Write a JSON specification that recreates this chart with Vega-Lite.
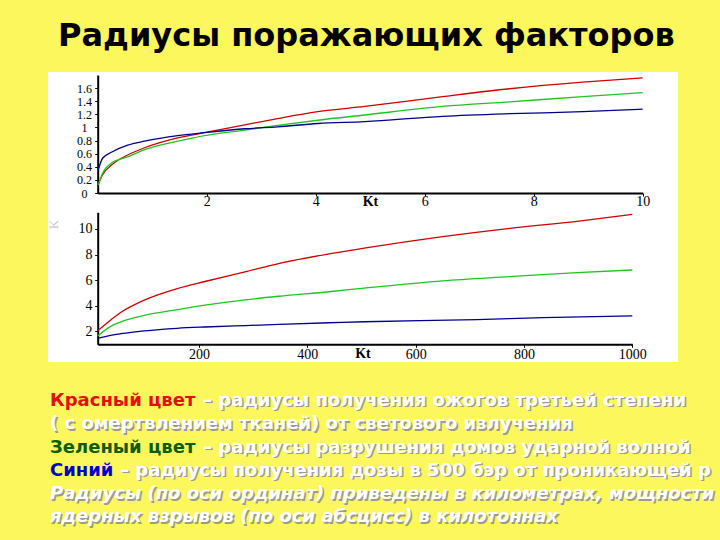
{
  "$schema": "https://vega.github.io/schema/vega-lite/v6.json",
  "background": "#fdf75e",
  "padding": {"left": 48, "top": 20, "right": 0, "bottom": 0},
  "bounds": "flush",
  "spacing": 0,
  "title": {
    "text": "Радиусы поражающих факторов",
    "font": "DejaVu Sans",
    "fontSize": 32,
    "fontWeight": "bold",
    "color": "#000000",
    "anchor": "start",
    "frame": "group",
    "baseline": "alphabetic",
    "offset": -6,
    "dx": 10
  },
  "datasets": {
    "small": [
      {"kt": 0.01, "r": 0.13, "factor": "thermal"},
      {"kt": 0.09, "r": 0.28, "factor": "thermal"},
      {"kt": 0.26, "r": 0.43, "factor": "thermal"},
      {"kt": 0.55, "r": 0.58, "factor": "thermal"},
      {"kt": 0.86, "r": 0.69, "factor": "thermal"},
      {"kt": 1.47, "r": 0.84, "factor": "thermal"},
      {"kt": 1.96, "r": 0.92, "factor": "thermal"},
      {"kt": 2.7, "r": 1.04, "factor": "thermal"},
      {"kt": 3.3, "r": 1.135, "factor": "thermal"},
      {"kt": 4.04, "r": 1.24, "factor": "thermal"},
      {"kt": 4.9, "r": 1.32, "factor": "thermal"},
      {"kt": 6.33, "r": 1.47, "factor": "thermal"},
      {"kt": 7.56, "r": 1.59, "factor": "thermal"},
      {"kt": 8.9, "r": 1.69, "factor": "thermal"},
      {"kt": 10, "r": 1.755, "factor": "thermal"},
      {"kt": 0.01, "r": 0.12, "factor": "blast"},
      {"kt": 0.09, "r": 0.3, "factor": "blast"},
      {"kt": 0.26, "r": 0.46, "factor": "blast"},
      {"kt": 0.55, "r": 0.55, "factor": "blast"},
      {"kt": 0.86, "r": 0.66, "factor": "blast"},
      {"kt": 1.47, "r": 0.79, "factor": "blast"},
      {"kt": 1.96, "r": 0.875, "factor": "blast"},
      {"kt": 2.7, "r": 0.96, "factor": "blast"},
      {"kt": 3.3, "r": 1.03, "factor": "blast"},
      {"kt": 4.04, "r": 1.11, "factor": "blast"},
      {"kt": 4.9, "r": 1.19, "factor": "blast"},
      {"kt": 6.33, "r": 1.32, "factor": "blast"},
      {"kt": 7.56, "r": 1.39, "factor": "blast"},
      {"kt": 8.9, "r": 1.47, "factor": "blast"},
      {"kt": 10, "r": 1.53, "factor": "blast"},
      {"kt": 0.01, "r": 0.355, "factor": "radiation"},
      {"kt": 0.09, "r": 0.53, "factor": "radiation"},
      {"kt": 0.26, "r": 0.625, "factor": "radiation"},
      {"kt": 0.55, "r": 0.73, "factor": "radiation"},
      {"kt": 0.86, "r": 0.79, "factor": "radiation"},
      {"kt": 1.47, "r": 0.875, "factor": "radiation"},
      {"kt": 1.96, "r": 0.92, "factor": "radiation"},
      {"kt": 2.7, "r": 0.98, "factor": "radiation"},
      {"kt": 3.3, "r": 1.01, "factor": "radiation"},
      {"kt": 4.04, "r": 1.06, "factor": "radiation"},
      {"kt": 4.9, "r": 1.09, "factor": "radiation"},
      {"kt": 6.33, "r": 1.17, "factor": "radiation"},
      {"kt": 7.56, "r": 1.21, "factor": "radiation"},
      {"kt": 8.9, "r": 1.24, "factor": "radiation"},
      {"kt": 10, "r": 1.28, "factor": "radiation"}
    ],
    "large": [
      {"kt": 13, "r": 2.05, "factor": "thermal"},
      {"kt": 37, "r": 2.9, "factor": "thermal"},
      {"kt": 56, "r": 3.5, "factor": "thermal"},
      {"kt": 99, "r": 4.45, "factor": "thermal"},
      {"kt": 160, "r": 5.35, "factor": "thermal"},
      {"kt": 211, "r": 5.9, "factor": "thermal"},
      {"kt": 285, "r": 6.65, "factor": "thermal"},
      {"kt": 347, "r": 7.3, "factor": "thermal"},
      {"kt": 440, "r": 8.05, "factor": "thermal"},
      {"kt": 505, "r": 8.5, "factor": "thermal"},
      {"kt": 650, "r": 9.4, "factor": "thermal"},
      {"kt": 774, "r": 10.05, "factor": "thermal"},
      {"kt": 898, "r": 10.6, "factor": "thermal"},
      {"kt": 1000, "r": 11.14, "factor": "thermal"},
      {"kt": 13, "r": 1.65, "factor": "blast"},
      {"kt": 37, "r": 2.4, "factor": "blast"},
      {"kt": 56, "r": 2.75, "factor": "blast"},
      {"kt": 99, "r": 3.25, "factor": "blast"},
      {"kt": 160, "r": 3.7, "factor": "blast"},
      {"kt": 211, "r": 4.05, "factor": "blast"},
      {"kt": 285, "r": 4.47, "factor": "blast"},
      {"kt": 347, "r": 4.75, "factor": "blast"},
      {"kt": 440, "r": 5.1, "factor": "blast"},
      {"kt": 505, "r": 5.38, "factor": "blast"},
      {"kt": 650, "r": 5.95, "factor": "blast"},
      {"kt": 774, "r": 6.28, "factor": "blast"},
      {"kt": 898, "r": 6.6, "factor": "blast"},
      {"kt": 1000, "r": 6.8, "factor": "blast"},
      {"kt": 13, "r": 1.47, "factor": "radiation"},
      {"kt": 37, "r": 1.7, "factor": "radiation"},
      {"kt": 56, "r": 1.83, "factor": "radiation"},
      {"kt": 99, "r": 2.05, "factor": "radiation"},
      {"kt": 160, "r": 2.25, "factor": "radiation"},
      {"kt": 211, "r": 2.35, "factor": "radiation"},
      {"kt": 285, "r": 2.46, "factor": "radiation"},
      {"kt": 347, "r": 2.55, "factor": "radiation"},
      {"kt": 440, "r": 2.68, "factor": "radiation"},
      {"kt": 505, "r": 2.76, "factor": "radiation"},
      {"kt": 713, "r": 2.93, "factor": "radiation"},
      {"kt": 835, "r": 3.08, "factor": "radiation"},
      {"kt": 1000, "r": 3.22, "factor": "radiation"}
    ],
    "notes": [
      {"line": 1, "seg": "lead", "kind": "red", "txt": "Красный цвет"},
      {"line": 1, "seg": "rest", "kind": "plain", "txt": "– радиусы получения ожогов третьей степени"},
      {"line": 2, "seg": "full", "kind": "plain", "txt": "( с омертвлением тканей) от светового излучения"},
      {"line": 3, "seg": "lead", "kind": "green", "txt": "Зеленый цвет"},
      {"line": 3, "seg": "rest", "kind": "plain", "txt": "– радиусы разрушения домов ударной волной"},
      {"line": 4, "seg": "lead", "kind": "blue", "txt": "Синий"},
      {"line": 4, "seg": "rest", "kind": "plain", "txt": "– радиусы получения дозы в 500 бэр от проникающей радиации"},
      {"line": 5, "seg": "note", "kind": "plain", "txt": "Радиусы (по оси ординат) приведены в километрах, мощности"},
      {"line": 6, "seg": "note", "kind": "plain", "txt": "ядерных взрывов (по оси абсцисс) в килотоннах"}
    ]
  },
  "vconcat": [
    {
      "width": 630,
      "height": 135,
      "view": {"fill": "white", "stroke": null},
      "data": {"name": "small"},
      "mark": {"type": "line", "strokeWidth": 1.3, "interpolate": "monotone"},
      "encoding": {
        "x": {
          "field": "kt",
          "type": "quantitative",
          "scale": {"domain": [0, 10], "range": [49.7, 594.7], "nice": false, "zero": false},
          "axis": {
            "title": "Kt",
            "titleX": 322,
            "titleY": 8.5,
            "titleAlign": "center",
            "titleBaseline": "middle",
            "titleFont": "Liberation Serif",
            "titleFontSize": 14,
            "titleFontWeight": "bold",
            "titleColor": "#000000",
            "values": [2, 4, 6, 8, 10],
            "format": "d",
            "offset": -14,
            "labelPadding": -2,
            "labelOverlap": false
          }
        },
        "y": {
          "field": "r",
          "type": "quantitative",
          "scale": {"domain": [0, 1.8], "range": [121, 3], "nice": false, "zero": false},
          "axis": {
            "title": null,
            "values": [0, 0.2, 0.4, 0.6, 0.8, 1, 1.2, 1.4, 1.6],
            "format": "~g",
            "offset": -49.7,
            "labelFontSize": 12,
            "labelAlign": "center",
            "labelPadding": 10.7,
            "labelOverlap": false
          }
        },
        "color": {
          "field": "factor",
          "type": "nominal",
          "scale": {"domain": ["thermal", "blast", "radiation"], "range": ["#cc0000", "#1fc41f", "#00008b"]},
          "legend": null
        }
      }
    },
    {
      "width": 630,
      "height": 155,
      "view": {"fill": "white", "stroke": null},
      "data": {"name": "large"},
      "mark": {"type": "line", "strokeWidth": 1.3, "interpolate": "monotone"},
      "encoding": {
        "x": {
          "field": "kt",
          "type": "quantitative",
          "scale": {"domain": [13, 1000], "range": [49.7, 584.3], "nice": false, "zero": false},
          "axis": {
            "title": "Kt",
            "titleX": 314.5,
            "titleY": 9.2,
            "titleAlign": "center",
            "titleBaseline": "middle",
            "titleFont": "Liberation Serif",
            "titleFontSize": 14,
            "titleFontWeight": "bold",
            "titleColor": "#000000",
            "values": [200, 400, 600, 800, 1000],
            "format": "d",
            "offset": -17.7,
            "labelPadding": 0,
            "labelOverlap": false
          }
        },
        "y": {
          "field": "r",
          "type": "quantitative",
          "scale": {"domain": [1, 11.3], "range": [137.3, 5.3], "nice": false, "zero": false},
          "axis": {
            "title": "K",
            "titleX": -36.7,
            "titleY": 17,
            "titleFont": "Liberation Serif",
            "titleFontSize": 13,
            "titleFontWeight": "normal",
            "titleColor": "#c8c8d8",
            "values": [2, 4, 6, 8, 10],
            "format": "d",
            "offset": -49.7,
            "labelPadding": 2.7,
            "labelOverlap": false
          }
        },
        "color": {
          "field": "factor",
          "type": "nominal",
          "scale": {"domain": ["thermal", "blast", "radiation"], "range": ["#cc0000", "#1fc41f", "#00008b"]},
          "legend": null
        }
      }
    },
    {
      "width": 672,
      "height": 182,
      "data": {"name": "notes"},
      "encoding": {
        "x": {"datum": 0, "type": "quantitative", "scale": {"domain": [0, 1], "nice": false}, "axis": null},
        "y": {"field": "line", "type": "quantitative", "scale": {"domain": [-0.888, 6.923], "reverse": true, "nice": false, "zero": false}, "axis": null},
        "text": {"field": "txt"}
      },
      "layer": [
        {
          "transform": [{"filter": "datum.seg == 'rest' && datum.line != 4"}],
          "mark": {"type": "text", "align": "left", "baseline": "alphabetic", "font": "DejaVu Sans", "fontWeight": "bold", "fontSize": 18, "color": "#9b9b8f", "dx": 156.5, "dy": 1.5, "limit": 515, "ellipsis": " "}
        },
        {
          "transform": [{"filter": "datum.seg == 'rest' && datum.line == 4"}],
          "mark": {"type": "text", "align": "left", "baseline": "alphabetic", "font": "DejaVu Sans", "fontWeight": "bold", "fontSize": 18, "color": "#9b9b8f", "dx": 73.5, "dy": 1.5, "limit": 598, "ellipsis": " "}
        },
        {
          "transform": [{"filter": "datum.seg == 'full'"}],
          "mark": {"type": "text", "align": "left", "baseline": "alphabetic", "font": "DejaVu Sans", "fontWeight": "bold", "fontSize": 18, "color": "#9b9b8f", "dx": 3.5, "dy": 1.5, "limit": 668, "ellipsis": " "}
        },
        {
          "transform": [{"filter": "datum.seg == 'note'"}],
          "mark": {"type": "text", "align": "left", "baseline": "alphabetic", "font": "DejaVu Sans", "fontWeight": "bold", "fontStyle": "italic", "fontSize": 18, "color": "#9b9b8f", "dx": 3.5, "dy": 1.5, "limit": 668, "ellipsis": " "}
        },
        {
          "transform": [{"filter": "datum.seg == 'rest' && datum.line != 4"}],
          "mark": {"type": "text", "align": "left", "baseline": "alphabetic", "font": "DejaVu Sans", "fontWeight": "bold", "fontSize": 18, "color": "#ffffff", "dx": 155, "limit": 517, "ellipsis": " "}
        },
        {
          "transform": [{"filter": "datum.seg == 'rest' && datum.line == 4"}],
          "mark": {"type": "text", "align": "left", "baseline": "alphabetic", "font": "DejaVu Sans", "fontWeight": "bold", "fontSize": 18, "color": "#ffffff", "dx": 72, "limit": 600, "ellipsis": " "}
        },
        {
          "transform": [{"filter": "datum.seg == 'full'"}],
          "mark": {"type": "text", "align": "left", "baseline": "alphabetic", "font": "DejaVu Sans", "fontWeight": "bold", "fontSize": 18, "color": "#ffffff", "dx": 2, "limit": 670, "ellipsis": " "}
        },
        {
          "transform": [{"filter": "datum.seg == 'note'"}],
          "mark": {"type": "text", "align": "left", "baseline": "alphabetic", "font": "DejaVu Sans", "fontWeight": "bold", "fontStyle": "italic", "fontSize": 18, "color": "#ffffff", "dx": 2, "limit": 670, "ellipsis": " "}
        },
        {
          "transform": [{"filter": "datum.seg == 'lead'"}],
          "mark": {"type": "text", "align": "left", "baseline": "alphabetic", "font": "DejaVu Sans", "fontWeight": "bold", "fontSize": 18, "dx": 2},
          "encoding": {
            "color": {
              "field": "kind",
              "type": "nominal",
              "scale": {"domain": ["red", "green", "blue"], "range": ["#e01010", "#0a5e0a", "#0000cc"]},
              "legend": null
            }
          }
        }
      ]
    }
  ],
  "resolve": {"scale": {"x": "independent", "y": "independent", "color": "independent"}},
  "config": {
    "view": {"stroke": null},
    "axis": {
      "labelOverlap": false,
      "labelFlush": false,
      "grid": false,
      "domainColor": "#000000",
      "domainWidth": 2,
      "tickColor": "#000000",
      "tickSize": 3,
      "labelFont": "Liberation Serif",
      "labelFontSize": 14,
      "labelColor": "#000000"
    }
  }
}
